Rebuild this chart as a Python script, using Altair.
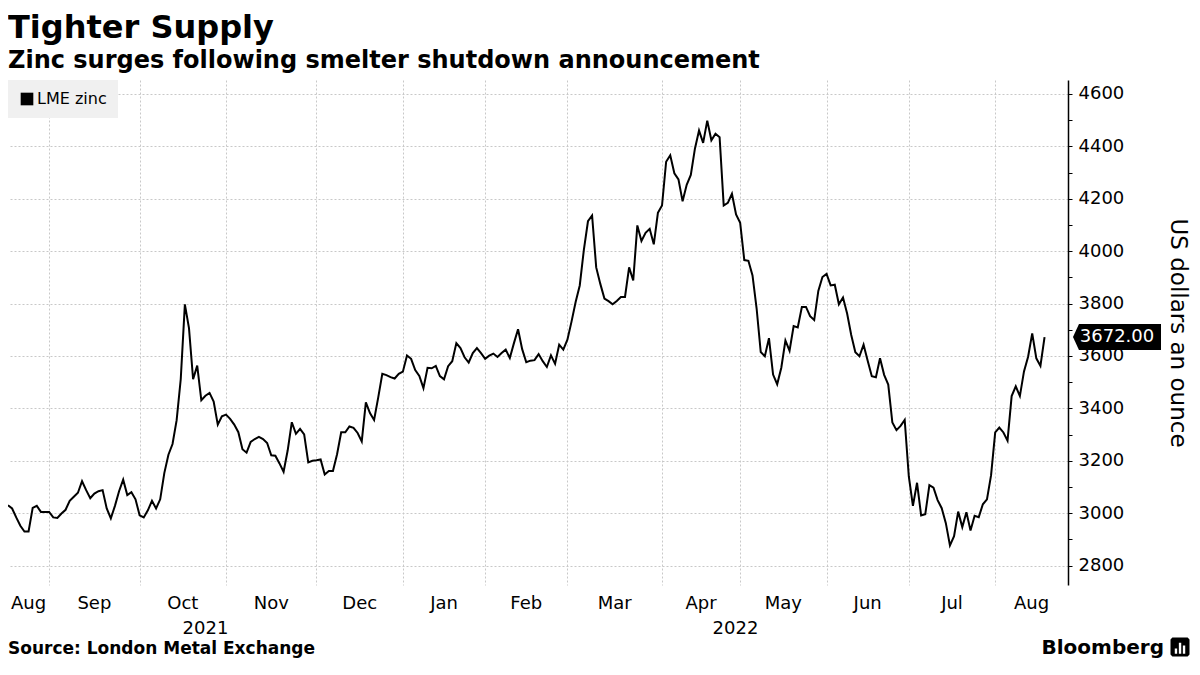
import altair as alt
import pandas as pd

# ---- data: LME zinc, daily (trading days) ----
months = ["Aug", "Sep", "Oct", "Nov", "Dec", "Jan", "Feb", "Mar", "Apr", "May", "Jun", "Jul", "Aug"]
years = ["2021", "2021", "2021", "2021", "2021", "2022", "2022", "2022", "2022", "2022", "2022", "2022", "2022"]

aug21 = [3030, 3018, 2984, 2952, 2930, 2930, 3020, 3028, 3005, 3005]
sep21 = [3005, 2984, 2982, 2999, 3013, 3047, 3063, 3078, 3122, 3088, 3057, 3075, 3084, 3088, 3018, 2980,
         3028, 3084, 3128, 3069, 3080, 3053]
oct21 = [2992, 2984, 3011, 3047, 3018, 3053, 3153, 3223, 3264, 3355, 3512, 3797, 3706, 3511, 3563, 3431,
         3448, 3459, 3426, 3338, 3370]
nov21 = [3376, 3360, 3338, 3309, 3244, 3231, 3272, 3283, 3291, 3283, 3268, 3221, 3219, 3190, 3158, 3240,
         3347, 3303, 3322, 3301, 3194, 3200]
dec21 = [3202, 3205, 3148, 3161, 3161, 3225, 3309, 3309, 3331, 3326, 3306, 3274, 3423, 3382, 3356, 3441,
         3532, 3527, 3519, 3514, 3532]
jan22 = [3540, 3602, 3589, 3546, 3524, 3477, 3555, 3553, 3562, 3523, 3511, 3561, 3580, 3649, 3630, 3595,
         3575, 3611, 3630, 3611]
feb22 = [3589, 3601, 3609, 3596, 3611, 3624, 3592, 3649, 3702, 3626, 3576, 3582, 3584, 3607, 3580, 3558,
         3602, 3570, 3643, 3624]
mar22 = [3662, 3731, 3806, 3869, 4005, 4114, 4136, 3938, 3875, 3819, 3809, 3797, 3810, 3825, 3825, 3938,
         3888, 4098, 4039, 4070, 4085, 4026, 4146]
apr22 = [4174, 4341, 4366, 4297, 4274, 4190, 4253, 4291, 4391, 4460, 4413, 4498, 4423, 4448, 4435, 4174,
         4184, 4219, 4140]
may22 = [4108, 3966, 3963, 3907, 3781, 3615, 3599, 3668, 3529, 3492, 3555, 3659, 3620, 3714, 3709, 3787,
         3787, 3752, 3737, 3848, 3901]
jun22 = [3913, 3869, 3872, 3797, 3823, 3762, 3680, 3614, 3599, 3643, 3582, 3523, 3519, 3591, 3528, 3491,
         3346, 3317, 3333, 3356]
jul22 = [3140, 3028, 3116, 2991, 2996, 3107, 3097, 3050, 3019, 2962, 2877, 2912, 3006, 2947, 3004, 2934,
         2990, 2985, 3034, 3053, 3145]
aug22 = [3308, 3327, 3308, 3277, 3447, 3484, 3447, 3541, 3597, 3686, 3591, 3562, 3672]

series_name = "LME zinc"
y_ticks = list(range(2800, 4700, 100))

# ---- derived tables ----
blocks = [aug21, sep21, oct21, nov21, dec21, jan22, feb22, mar22, apr22, may22, jun22, jul22, aug22]
values = [v for b in blocks for v in b]
month_starts = []
pos = 0
for b in blocks:
    month_starts.append(pos)
    pos += len(b)

X_END = len(values) - 1 + 5.7
Y_DOMAIN = [2726, 4653]
W, H = 1060, 505
FONT = "DejaVu Sans"

df = pd.DataFrame({"day": list(range(len(values))), "price": values, "series": series_name})
bounds = month_starts + [X_END]
month_df = pd.DataFrame({
    "mid": [(bounds[i] + bounds[i + 1]) / 2 for i in range(len(months))],
    "label": months,
})
yr_rows = []
for y in sorted(set(years)):
    idx = [i for i, yy in enumerate(years) if yy == y]
    yr_rows.append({"mid": (bounds[idx[0]] + bounds[idx[-1] + 1]) / 2, "label": y})
year_df = pd.DataFrame(yr_rows)
last_df = pd.DataFrame({"price": [values[-1]], "label": [f"{values[-1]:.2f}"]})

xscale = alt.Scale(domain=[0, X_END], nice=False, zero=False)
yscale = alt.Scale(domain=Y_DOMAIN, nice=False, zero=False)

major = "datum.value % 200 === 0"

X_AXIS = alt.Axis(values=month_starts[1:], grid=True, gridColor="#c8c8c8", gridDash=[2, 2],
                  gridWidth=1, labels=False, ticks=False, domain=False, title=None)
Y_AXIS = alt.Axis(orient="right", values=y_ticks, format="d",
                  labelExpr=f"{major} ? datum.label : ''", labelOverlap=False,
                  labelFont=FONT, labelFontSize=18, labelColor="black", labelPadding=6,
                  tickColor="black", tickSize=4, tickWidth=1,
                  domainColor="black", domainWidth=1.5,
                  grid=True, gridColor="#c8c8c8", gridDash=[2, 2], gridWidth=1,
                  gridOpacity={"condition": {"test": major, "value": 1}, "value": 0},
                  title="US dollars an ounce", titleFont=FONT, titleFontSize=23,
                  titleFontWeight="normal", titleColor="black", titleAngle=90,
                  titleX=109, titleY=H / 2, titleAlign="center", titleBaseline="middle")

line = alt.Chart(df).mark_line(strokeWidth=2).encode(
    x=alt.X("day:Q", scale=xscale, axis=X_AXIS),
    y=alt.Y("price:Q", scale=yscale, axis=Y_AXIS),
    color=alt.Color("series:N", scale=alt.Scale(range=["black"]),
                    legend=alt.Legend(title=None, orient="top-left", offset=0, fillColor="#f0f0f0",
                                      padding=11, symbolType="square", symbolSize=160,
                                      symbolFillColor="black", symbolStrokeWidth=0,
                                      labelFont=FONT, labelFontSize=16, labelColor="black",
                                      labelOffset=2)),
)

TAG = "M-1,0L-0.864,-0.295L1,-0.295L1,0.295L-0.864,0.295Z"
tag = alt.Chart(last_df).mark_point(shape=TAG, size=7744, filled=True, color="black",
                                    opacity=1, strokeWidth=0).encode(
    x=alt.value(W + 49),
    y=alt.Y("price:Q", scale=yscale, axis=Y_AXIS),
)
tag_text = alt.Chart(last_df).mark_text(color="white", font=FONT, fontSize=18,
                                        align="center", baseline="middle").encode(
    x=alt.value(W + 49),
    y=alt.Y("price:Q", scale=yscale, axis=Y_AXIS),
    text="label:N",
)

month_text = alt.Chart(month_df).mark_text(font=FONT, fontSize=18, color="black",
                                           align="center", baseline="middle").encode(
    x=alt.X("mid:Q", scale=xscale, axis=X_AXIS), y=alt.value(H + 19), text="label:N")
year_text = alt.Chart(year_df).mark_text(font=FONT, fontSize=18, color="black",
                                         align="center", baseline="middle").encode(
    x=alt.X("mid:Q", scale=xscale, axis=X_AXIS), y=alt.value(H + 44), text="label:N")


def label(txt, x, y, size, weight="normal", align="left"):
    return alt.Chart(pd.DataFrame({"t": [txt]})).mark_text(
        font=FONT, fontSize=size, fontWeight=weight, color="black", align=align,
        baseline="alphabetic").encode(x=alt.value(x), y=alt.value(y), text="t:N")


title = label("Tighter Supply", 0, -42, 32, "bold")
subtitle = label("Zinc surges following smelter shutdown announcement", 0, -12, 24, "bold")
source = label("Source: London Metal Exchange", 0, H + 69, 17, "bold")
brand = label("Bloomberg", 1156, H + 69, 20, "bold", align="right")

LOGO = ("M-0.8,-1L0.8,-1L1,-0.8L1,0.8L0.8,1L-0.8,1L-1,0.8L-1,-0.8Z"
        "M-0.55,0.15L-0.55,0.7L-0.3,0.7L-0.3,0.15Z"
        "M-0.12,-0.45L-0.12,0.7L0.13,0.7L0.13,-0.45Z"
        "M0.3,-0.15L0.3,0.7L0.55,0.7L0.55,-0.15Z")
logo = alt.Chart(pd.DataFrame({"t": ["logo"]})).mark_point(
    shape=LOGO, size=361, filled=True, color="black", opacity=1, strokeWidth=0).encode(
    x=alt.value(1172), y=alt.value(H + 62))

chart = alt.layer(line, tag, tag_text, month_text, year_text, title, subtitle, source, brand, logo).properties(
    width=W, height=H,
    padding={"left": 0, "top": 72, "right": 124, "bottom": 75},
    autosize=alt.AutoSizeParams(type="none"),
    background="white",
).configure_view(strokeWidth=0)

chart.save("out.html", embed_options={"renderer": "svg", "actions": False})
